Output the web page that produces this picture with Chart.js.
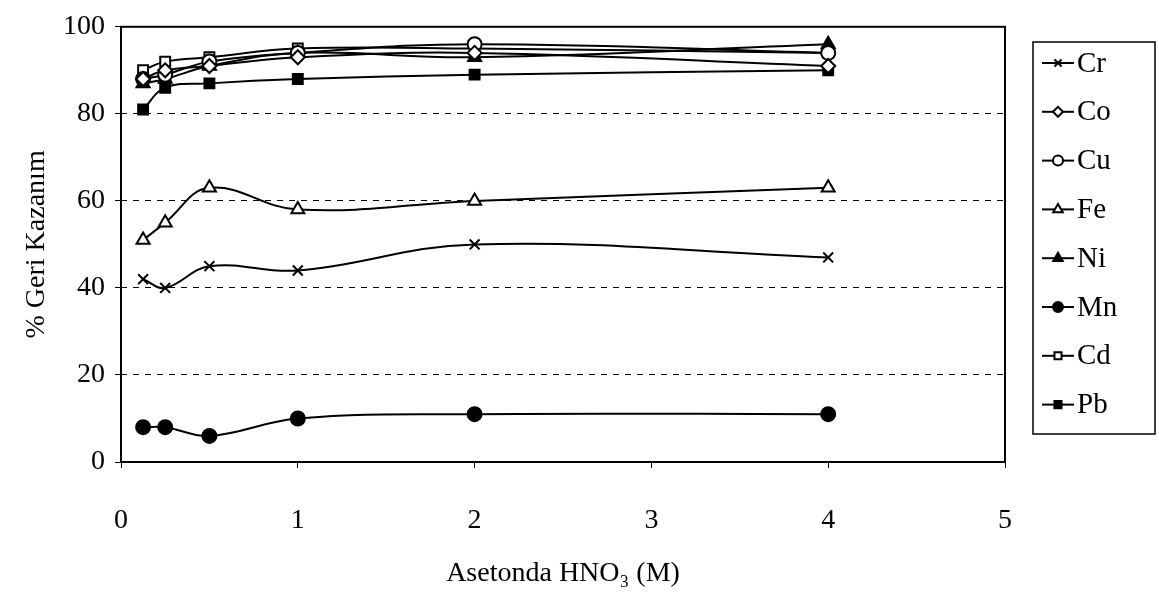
<!DOCTYPE html>
<html>
<head>
<meta charset="utf-8">
<script src="https://cdn.jsdelivr.net/npm/chart.js@4/dist/chart.umd.min.js"></script>
<style>
  html, body { margin: 0; padding: 0; background: #fff; }
  #wrap { width: 1159px; height: 592px; }
</style>
</head>
<body>
<div id="wrap"><canvas id="chart" width="1159" height="592"></canvas></div>
<script>
// HNO3 concentration in acetone (M)
const concentrations = [0.125, 0.25, 0.5, 1, 2, 4];

// recovery (%) per metal
const crValues = [42, 40, 45, 44, 50, 47];
const coValues = [88, 90, 91, 93, 94, 91];
const cuValues = [88, 89, 92, 94, 96, 94];
const feValues = [51, 55, 63, 58, 60, 63];
const niValues = [87, 88, 91, 94, 93, 96];
const mnValues = [8, 8, 6, 10, 11, 11];
const cdValues = [90, 92, 93, 95, 95, 94];
const pbValues = [81, 86, 87, 88, 89, 90];

const seriesNames = ['Cr', 'Co', 'Cu', 'Fe', 'Ni', 'Mn', 'Cd', 'Pb'];
const xTicks = [0, 1, 2, 3, 4, 5];
const yTicks = [0, 20, 40, 60, 80, 100];

const font = 'Liberation Serif, Times New Roman, serif';

// marker look for each series
const markers = {
    Cr: { style: 'crossRot', fill: '#000', radius: 7 },
    Co: { style: 'rectRot', fill: '#fff', radius: 7 },
    Cu: { style: 'circle', fill: '#fff', radius: 7 },
    Fe: { style: 'triangle', fill: '#fff', radius: 7.5 },
    Ni: { style: 'triangle', fill: '#000', radius: 7.5 },
    Mn: { style: 'circle', fill: '#000', radius: 7 },
    Cd: { style: 'rect', fill: '#fff', radius: 7 },
    Pb: { style: 'rect', fill: '#000', radius: 7 }
};

const allValues = [crValues, coValues, cuValues, feValues, niValues, mnValues, cdValues, pbValues];

const datasets = seriesNames.map((name, i) => ({
    label: name,
    data: concentrations.map((x, j) => ({ x: x, y: allValues[i][j] })),
    borderColor: '#000',
    borderWidth: 2,
    backgroundColor: markers[name].fill,
    pointStyle: markers[name].style,
    pointRadius: markers[name].radius,
    pointBorderColor: '#000',
    pointBorderWidth: 2,
    pointBackgroundColor: markers[name].fill,
    tension: 0.4,
    fill: false
}));

// frame around the plot area + custom legend box on the right
const framePlugin = {
    id: 'frame',
    afterDraw(chart) {
        const ctx = chart.ctx;
        const a = chart.chartArea;
        ctx.save();
        ctx.strokeStyle = '#000';
        ctx.lineWidth = 2;
        ctx.strokeRect(a.left, a.top, a.right - a.left, a.bottom - a.top);

        // legend
        const boxL = 1033, boxT = 42, boxR = 1155, boxB = 434;
        ctx.lineWidth = 1.5;
        ctx.strokeRect(boxL, boxT, boxR - boxL, boxB - boxT);
        const rowH = 48.8;
        ctx.font = '29px ' + font;
        ctx.textBaseline = 'middle';
        ctx.textAlign = 'left';
        seriesNames.forEach((name, i) => {
            const y = 63 + i * rowH;
            ctx.beginPath();
            ctx.lineWidth = 2;
            ctx.strokeStyle = '#000';
            ctx.moveTo(1042, y);
            ctx.lineTo(1074, y);
            ctx.stroke();
            const m = markers[name];
            ctx.fillStyle = m.fill;
            ctx.strokeStyle = '#000';
            ctx.lineWidth = 2;
            Chart.helpers.drawPoint(ctx, { pointStyle: m.style, radius: m.radius - 2, borderWidth: 2 }, 1058, y);
            ctx.fillStyle = '#000';
            ctx.fillText(name, 1077, y + 1);
        });
        ctx.restore();
    }
};

new Chart(document.getElementById('chart'), {
    type: 'line',
    data: { datasets: datasets },
    options: {
        responsive: false,
        animation: false,
        layout: { padding: { top: 20, right: 154, left: 0, bottom: 0 } },
        plugins: {
            legend: { display: false },
            tooltip: { enabled: false }
        },
        scales: {
            x: {
                type: 'linear',
                min: 0,
                max: 5,
                afterBuildTicks: s => { s.ticks = xTicks.map(v => ({ value: v })); },
                afterFit: s => { s.height = 130; },
                grid: { drawOnChartArea: false, drawTicks: true, tickLength: 6, color: '#000', lineWidth: 1 },
                border: { display: false },
                ticks: { color: '#000', padding: 36, font: { family: font, size: 28 } },
                title: {
                    display: true,
                    text: 'Asetonda HNO\u2083 (M)',
                    color: '#000',
                    padding: { top: 0, bottom: 2 },
                    font: { family: font, size: 28 }
                }
            },
            y: {
                type: 'linear',
                min: 0,
                max: 100,
                afterBuildTicks: s => { s.ticks = yTicks.map(v => ({ value: v })); },
                afterFit: s => { s.width = 121; },
                grid: { drawOnChartArea: true, drawTicks: true, tickLength: 6, color: '#000', lineWidth: 1 },
                border: { display: false, dash: [6, 6] },
                ticks: { color: '#000', padding: 10, font: { family: font, size: 28 } },
                title: {
                    display: true,
                    text: '% Geri Kazanım',
                    color: '#000',
                    padding: { top: 20, bottom: 0 },
                    font: { family: font, size: 28 }
                }
            }
        }
    },
    plugins: [framePlugin]
});
</script>
</body>
</html>
